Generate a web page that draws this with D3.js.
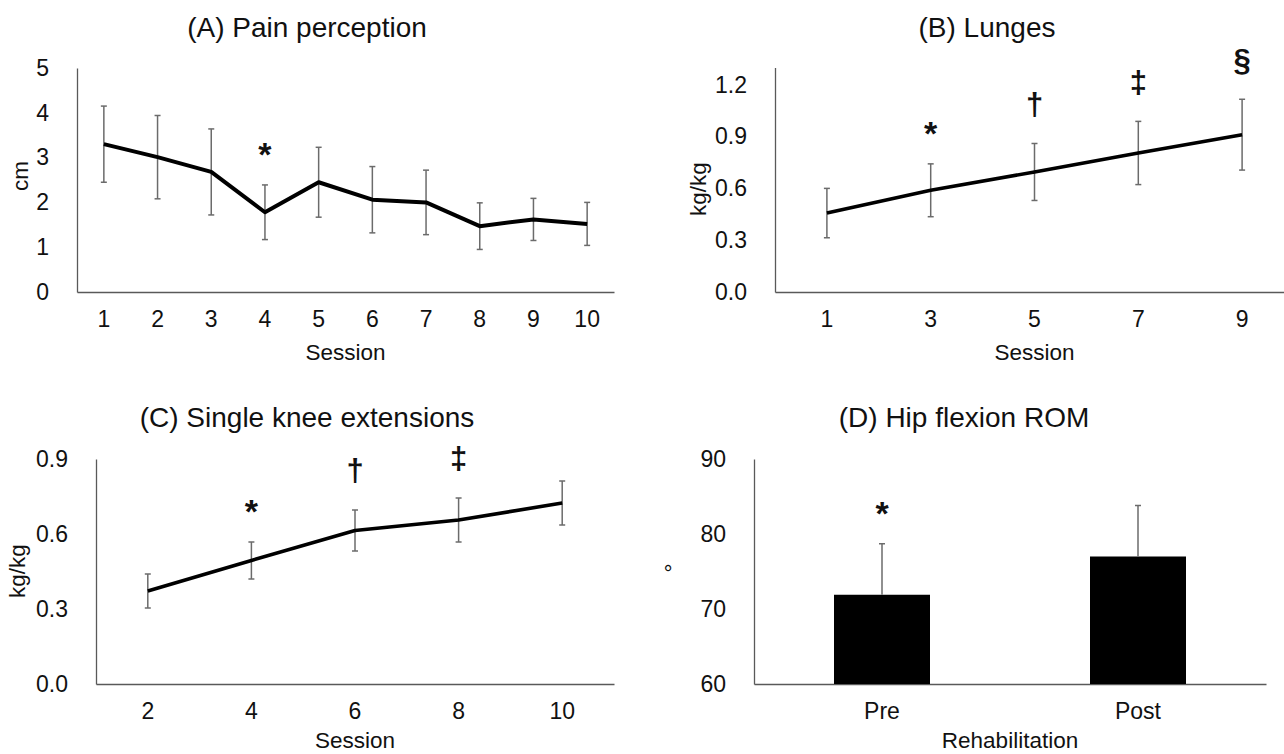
<!DOCTYPE html>
<html>
<head>
<meta charset="utf-8">
<script src="https://cdn.jsdelivr.net/npm/d3@7"></script>
<style>
  html, body { margin: 0; padding: 0; background: #fff; }
  svg { display: block; font-family: "Liberation Sans", Arial, Helvetica, sans-serif; }
</style>
</head>
<body>
<svg id="chart" width="1284" height="754"></svg>
<script>
// ---------- DATA ----------
// (A) Pain perception
const aSessions = [1, 2, 3, 4, 5, 6, 7, 8, 9, 10];
const aMean = [3.30, 3.01, 2.68, 1.78, 2.45, 2.06, 2.00, 1.47, 1.62, 1.52];
const aSD   = [0.85, 0.93, 0.96, 0.61, 0.78, 0.74, 0.72, 0.52, 0.47, 0.48];
const aMarks = ["", "", "", "*", "", "", "", "", "", ""];
const aTicks = [0, 1, 2, 3, 4, 5];

// (B) Lunges
const bSessions = [1, 3, 5, 7, 9];
const bMean = [0.457, 0.589, 0.695, 0.805, 0.911];
const bSD   = [0.143, 0.153, 0.165, 0.183, 0.205];
const bMarks = ["", "*", "\u2020", "\u2021", "\u00A7"];
const bTicks = [0.0, 0.3, 0.6, 0.9, 1.2];

// (C) Single knee extensions
const cSessions = [2, 4, 6, 8, 10];
const cMean = [0.372, 0.494, 0.614, 0.656, 0.724];
const cSD   = [0.068, 0.074, 0.082, 0.088, 0.088];
const cMarks = ["", "*", "\u2020", "\u2021", ""];
const cTicks = [0.0, 0.3, 0.6, 0.9];

// (D) Hip flexion ROM
const dGroups = ["Pre", "Post"];
const dMean = [71.9, 77.0];
const dSD   = [6.8, 6.8];
const dMarks = ["*", ""];
const dTicks = [60, 70, 80, 90];

// ---------- DRAWING ----------
const svg = d3.select("#chart");
const AXIS_COLOR = "#595959";
const ERR_COLOR = "#6b6b6b";
const TEXT_COLOR = "#111";
const TICK_FS = 23;
const LABEL_FS = 22.5;
const TITLE_FS = 28;

// font size and vertical offset (in em) from baseline to visual glyph centre
const glyphSize = { "*": 34, "\u2020": 31, "\u2021": 31, "\u00A7": 31 };
const glyphCenter = { "*": 0.57, "\u2020": 0.30, "\u2021": 0.30, "\u00A7": 0.30 };

function styleAxis(g) {
  g.select(".domain").attr("stroke", AXIS_COLOR).attr("stroke-width", 1.3);
  g.selectAll(".tick line").remove();
  g.selectAll(".tick text").attr("fill", TEXT_COLOR).attr("font-size", TICK_FS)
    .attr("font-family", '"Liberation Sans", Arial, sans-serif');
}

function panel(cfg) {
  const x = d3.scaleBand().domain(cfg.cats).range(cfg.xRange);
  const y = d3.scaleLinear().domain(cfg.yDomain).range(cfg.yRange);
  const g = svg.append("g");

  // axes
  g.append("g").attr("transform", `translate(0,${cfg.yRange[0]})`)
    .call(d3.axisBottom(x).tickSize(0).tickSizeOuter(0).tickPadding(19))
    .call(styleAxis);
  g.append("g").attr("transform", `translate(${cfg.xRange[0]},0)`)
    .call(d3.axisLeft(y).tickValues(cfg.ticks).tickFormat(d3.format(cfg.fmt))
      .tickSize(0).tickSizeOuter(0).tickPadding(28))
    .call(styleAxis);

  const cx = d => x(d) + x.bandwidth() / 2;
  const pts = cfg.cats.map((c, i) => ({ c, m: cfg.mean[i], s: cfg.sd[i], mark: cfg.marks[i] }));

  if (cfg.type === "bar") {
    const bw = x.bandwidth() * 0.375;
    g.selectAll("rect.bar").data(pts).join("rect")
      .attr("x", d => cx(d.c) - bw / 2)
      .attr("y", d => y(d.m))
      .attr("width", bw)
      .attr("height", d => y(cfg.yDomain[0]) - y(d.m))
      .attr("fill", "#000");
    // upper error bars only
    g.selectAll("line.err").data(pts).join("line")
      .attr("x1", d => cx(d.c)).attr("x2", d => cx(d.c))
      .attr("y1", d => y(d.m)).attr("y2", d => y(d.m + d.s))
      .attr("stroke", ERR_COLOR).attr("stroke-width", 1.5);
    g.selectAll("line.cap").data(pts).join("line")
      .attr("x1", d => cx(d.c) - 3).attr("x2", d => cx(d.c) + 3)
      .attr("y1", d => y(d.m + d.s)).attr("y2", d => y(d.m + d.s))
      .attr("stroke", ERR_COLOR).attr("stroke-width", 1.5);
  } else {
    // error bars
    const eb = g.append("g");
    eb.selectAll("line.err").data(pts).join("line")
      .attr("x1", d => cx(d.c)).attr("x2", d => cx(d.c))
      .attr("y1", d => y(d.m - d.s)).attr("y2", d => y(d.m + d.s))
      .attr("stroke", ERR_COLOR).attr("stroke-width", 1.5);
    eb.selectAll("line.capT").data(pts).join("line")
      .attr("x1", d => cx(d.c) - 3).attr("x2", d => cx(d.c) + 3)
      .attr("y1", d => y(d.m + d.s)).attr("y2", d => y(d.m + d.s))
      .attr("stroke", ERR_COLOR).attr("stroke-width", 1.5);
    eb.selectAll("line.capB").data(pts).join("line")
      .attr("x1", d => cx(d.c) - 3).attr("x2", d => cx(d.c) + 3)
      .attr("y1", d => y(d.m - d.s)).attr("y2", d => y(d.m - d.s))
      .attr("stroke", ERR_COLOR).attr("stroke-width", 1.5);
    // mean line
    g.append("path").datum(pts)
      .attr("d", d3.line().x(d => cx(d.c)).y(d => y(d.m)))
      .attr("fill", "none").attr("stroke", "#000")
      .attr("stroke-width", cfg.lineW).attr("stroke-linejoin", "round");
  }

  // significance marks
  g.selectAll("text.mark").data(pts.filter(d => d.mark)).join("text")
    .attr("x", d => cx(d.c))
    .attr("y", d => y(d.m + d.s) - 38 + glyphCenter[d.mark] * glyphSize[d.mark])
    .attr("text-anchor", "middle")
    .attr("font-size", d => glyphSize[d.mark]).attr("font-weight", "bold")
    .attr("fill", TEXT_COLOR)
    .text(d => d.mark);

  // title
  g.append("text").attr("x", cfg.titleX).attr("y", cfg.titleY)
    .attr("text-anchor", "middle").attr("font-size", TITLE_FS).attr("fill", TEXT_COLOR)
    .text(cfg.title);
  // x axis title
  g.append("text")
    .attr("x", (cfg.xRange[0] + cfg.xRange[1]) / 2)
    .attr("y", Math.min(cfg.yRange[0] + 68, 748))
    .attr("text-anchor", "middle").attr("font-size", LABEL_FS).attr("fill", TEXT_COLOR)
    .text(cfg.xLabel);
  // y axis title
  g.append("text")
    .attr("transform", `translate(${cfg.yLabelX},${cfg.yLabelY}) rotate(-90)`)
    .attr("text-anchor", "middle").attr("dy", "0.35em")
    .attr("font-size", LABEL_FS).attr("fill", TEXT_COLOR)
    .text(cfg.yLabel);
}

panel({
  type: "line", cats: aSessions, mean: aMean, sd: aSD, marks: aMarks, ticks: aTicks, fmt: "d",
  xRange: [77, 614], yDomain: [0, 5], yRange: [292, 68], lineW: 4,
  title: "(A) Pain perception", titleX: 307, titleY: 37,
  xLabel: "Session", yLabel: "cm", yLabelX: 20, yLabelY: 176
});
panel({
  type: "line", cats: bSessions, mean: bMean, sd: bSD, marks: bMarks, ticks: bTicks, fmt: ".1f",
  xRange: [775, 1294], yDomain: [0, 1.3], yRange: [292, 67.5], lineW: 3.6,
  title: "(B) Lunges", titleX: 987, titleY: 37,
  xLabel: "Session", yLabel: "kg/kg", yLabelX: 698, yLabelY: 189
});
panel({
  type: "line", cats: cSessions, mean: cMean, sd: cSD, marks: cMarks, ticks: cTicks, fmt: ".1f",
  xRange: [96, 614], yDomain: [0, 0.9], yRange: [684, 459], lineW: 3.6,
  title: "(C) Single knee extensions", titleX: 307, titleY: 427,
  xLabel: "Session", yLabel: "kg/kg", yLabelX: 17, yLabelY: 571
});
panel({
  type: "bar", cats: dGroups, mean: dMean, sd: dSD, marks: dMarks, ticks: dTicks, fmt: "d",
  xRange: [754, 1266], yDomain: [60, 90], yRange: [684, 459],
  title: "(D) Hip flexion ROM", titleX: 964, titleY: 427,
  xLabel: "Rehabilitation", yLabel: "\u00B0", yLabelX: 673, yLabelY: 568
});
</script>
</body>
</html>
